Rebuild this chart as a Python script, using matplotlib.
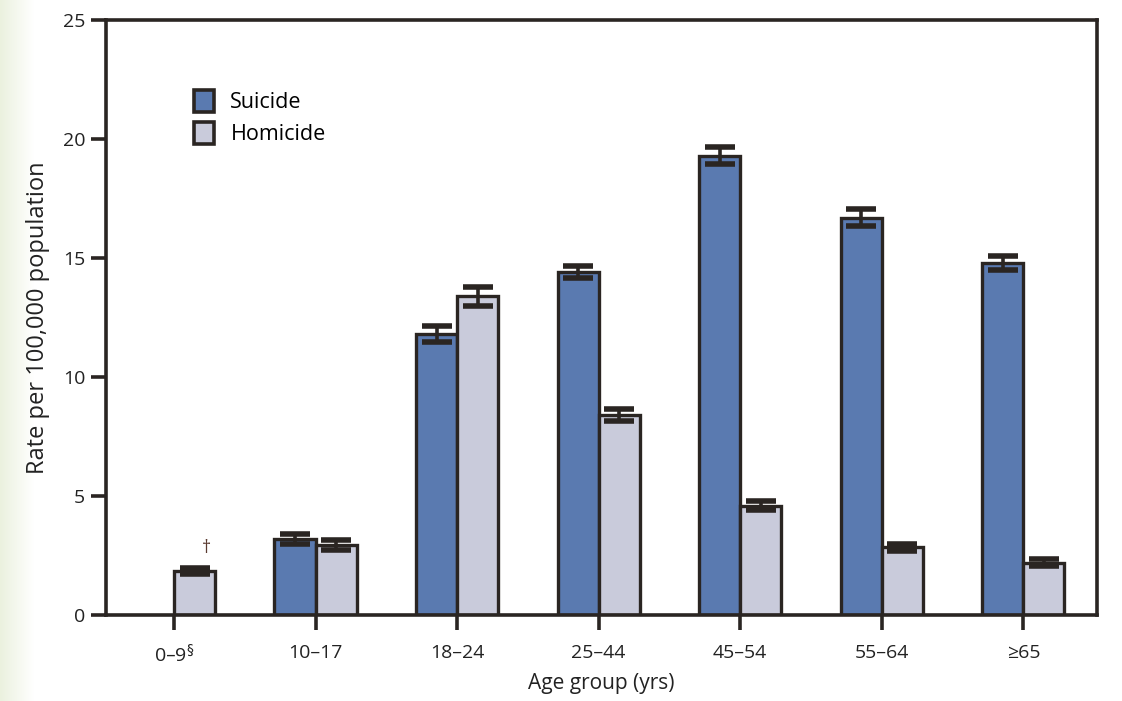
import numpy as np
import matplotlib
matplotlib.use("Agg")
import matplotlib.pyplot as plt
from matplotlib.patches import Patch
from matplotlib.colors import LinearSegmentedColormap

age_groups = ["0–9$^{\\S}$", "10–17", "18–24", "25–44", "45–54", "55–64", "≥65"]
suicide = [np.nan, 3.2, 11.8, 14.4, 19.3, 16.7, 14.8]
suicide_err = [np.nan, 0.2, 0.35, 0.25, 0.35, 0.35, 0.3]
homicide = [1.85, 2.95, 13.4, 8.4, 4.6, 2.85, 2.2]
homicide_err = [0.12, 0.2, 0.4, 0.25, 0.2, 0.15, 0.15]

suicide_color = "#5a7ab0"
homicide_color = "#c9cbdb"
ink = "#2a2522"
text_color = "#222222"

plt.rcParams["font.family"] = ["Open Sans", "DejaVu Sans"]

fig = plt.figure(figsize=(11.22, 7.01), dpi=100)

# soft tinted margin along the left edge of the page
bg = fig.add_axes([0, 0, 0.03, 1], zorder=-1)
fade = LinearSegmentedColormap.from_list("fade", ["#ebf1de", "#ffffff"])
bg.imshow(np.linspace(0, 1, 64)[None, :], aspect="auto", cmap=fade,
          extent=[0, 1, 0, 1])
bg.set_axis_off()

ax = fig.add_axes([0.0945, 0.1227, 0.8832, 0.8488])

x = np.arange(len(age_groups))
w = 0.29
ax.bar(x - w / 2, suicide, w, color=suicide_color, edgecolor=ink, linewidth=2.4,
       label="Suicide", zorder=2)
ax.bar(x + w / 2, homicide, w, color=homicide_color, edgecolor=ink, linewidth=2.4,
       label="Homicide", zorder=2)
ax.errorbar(x - w / 2, suicide, yerr=suicide_err, fmt="none", ecolor=ink,
            elinewidth=2.6, capsize=11, capthick=4, zorder=3)
ax.errorbar(x + w / 2, homicide, yerr=homicide_err, fmt="none", ecolor=ink,
            elinewidth=2.6, capsize=11, capthick=4, zorder=3)

ax.text(x[0] + 0.226, homicide[0] + 0.95, "†", ha="center", va="center",
        fontsize=13, color="#5a3a30")

ax.set_xlim(-0.48, 6.52)
ax.set_ylim(0, 25)
ax.set_yticks([0, 5, 10, 15, 20, 25])
ax.set_xticks(x)
ax.set_xticklabels(age_groups)

for s in ax.spines.values():
    s.set_linewidth(2.6)
    s.set_color(ink)
ax.tick_params(axis="both", direction="out", length=11, width=2.6, color=ink,
               labelsize=14, labelcolor=text_color)
ax.tick_params(axis="x", pad=10)
ax.tick_params(axis="y", pad=4)

ax.set_xlabel("Age group (yrs)", fontsize=15, color=text_color, labelpad=5)
ax.set_ylabel("Rate per 100,000 population", fontsize=17, color=text_color,
              labelpad=9)

handles = [Patch(facecolor=suicide_color, edgecolor=ink, linewidth=2.6, label="Suicide"),
           Patch(facecolor=homicide_color, edgecolor=ink, linewidth=2.6, label="Homicide")]
ax.legend(handles=handles, loc="upper left", bbox_to_anchor=(0.069, 0.915),
          frameon=False, fontsize=15.5, handlelength=0.95, handleheight=1.2,
          handletextpad=0.75, labelspacing=0.4)

fig.savefig("out.png", dpi=100, facecolor="white")
